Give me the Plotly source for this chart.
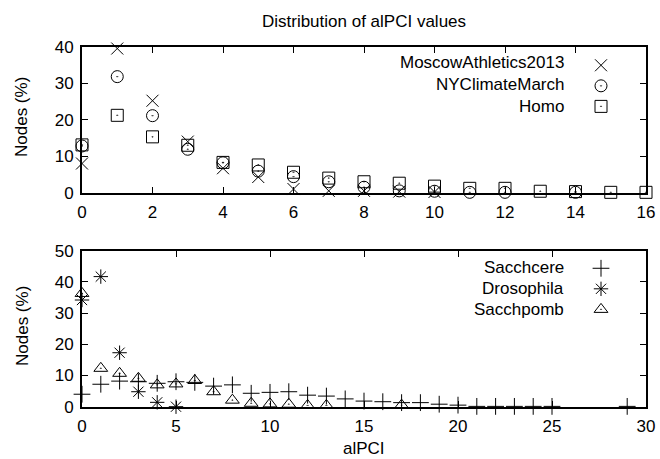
import plotly.graph_objects as go

# ---------------- data ----------------
top_title = "Distribution of alPCI values"
x_label = "alPCI"
y_label = "Nodes (%)"

moscow_x = [0, 1, 2, 3, 4, 5, 6, 7, 8, 9, 10]
moscow_y = [8.0, 39.5, 25.2, 14.0, 6.7, 4.3, 1.0, 0.5, 0.5, 0.3, 0.2]

ny_x = [0, 1, 2, 3, 4, 5, 6, 7, 8, 9, 10, 11, 12, 14]
ny_y = [12.8, 31.8, 21.1, 11.9, 8.2, 5.9, 4.4, 3.0, 1.5, 0.5, 0.4, 0.1, 0.1, 0.1]

homo_x = [0, 1, 2, 3, 4, 5, 6, 7, 8, 9, 10, 11, 12, 13, 14, 15, 16]
homo_y = [13.1, 21.2, 15.3, 13.0, 8.3, 7.6, 5.6, 4.0, 3.0, 2.6, 1.8, 1.2, 1.2, 0.4, 0.3, 0.1, 0.1]

cere_x = [0, 1, 2, 3, 4, 5, 6, 7, 8, 9, 10, 11, 12, 13, 14, 15, 16, 17, 18, 19, 20,
          21, 22, 23, 24, 25, 29]
cere_y = [4.0, 7.2, 8.2, 8.0, 7.5, 8.0, 7.8, 6.6, 7.0, 4.3, 4.6, 4.8, 3.7, 3.4, 2.5, 1.8,
          1.6, 1.3, 1.3, 0.8, 0.5, 0.1, 0.1, 0.1, 0.1, 0.1, 0.1]

dros_x = [0, 1, 2, 3, 4, 5]
dros_y = [34.2, 41.7, 17.3, 4.8, 1.4, 0.0]

pomb_x = [0, 1, 2, 3, 4, 5, 6, 7, 8, 9, 10, 11, 12, 13, 17]
pomb_y = [36.3, 12.3, 10.7, 9.1, 7.0, 7.3, 8.4, 4.8, 2.1, 1.1, 0.9, 0.8, 0.4, 0.4, 0.5]

top_names = ["MoscowAthletics2013", "NYClimateMarch", "Homo"]
bot_names = ["Sacchcere", "Drosophila", "Sacchpomb"]

top_xticks = [0, 2, 4, 6, 8, 10, 12, 14, 16]
top_yticks = [0, 10, 20, 30, 40]
bot_xticks = [0, 5, 10, 15, 20, 25, 30]
bot_yticks = [0, 10, 20, 30, 40, 50]

# ---------------- layout helpers ----------------
W, H = 660, 459
FONT = "Liberation Sans, Arial, sans-serif"
FS = 17


def px_x(p):
    return p / W


def px_y(p):
    return 1 - p / H


fig = go.Figure()

series_top = [
    (moscow_x, moscow_y, "x-thin-open", 12),
    (ny_x, ny_y, "circle-open-dot", 12),
    (homo_x, homo_y, "square-open-dot", 12),
]
series_bot = [
    (cere_x, cere_y, "cross-thin-open", 12),
    (dros_x, dros_y, "asterisk-open", 12),
    (pomb_x, pomb_y, "triangle-up-open-dot", 12),
]

# legend entries only show the key symbol; the label text is drawn gnuplot-style
# (to the left of the symbol) as annotations below.
for (xs, ys, sym, sz), name in zip(series_top, top_names):
    fig.add_trace(go.Scatter(
        x=xs, y=ys, mode="markers", name=" ", xaxis="x", yaxis="y",
        hovertemplate=name + ": (%{x}, %{y})<extra></extra>",
        marker=dict(symbol=sym, size=sz, color="black", line=dict(width=1, color="black")),
        cliponaxis=False, legend="legend", showlegend=True))

for (xs, ys, sym, sz), name in zip(series_bot, bot_names):
    fig.add_trace(go.Scatter(
        x=xs, y=ys, mode="markers", name=" ", xaxis="x2", yaxis="y2",
        hovertemplate=name + ": (%{x}, %{y})<extra></extra>",
        marker=dict(symbol=sym, size=sz, color="black", line=dict(width=1, color="black")),
        cliponaxis=False, legend="legend2", showlegend=True))

axis_common = dict(
    showline=True, linecolor="black", linewidth=2, mirror="ticks",
    ticks="inside", ticklen=6, tickwidth=1, tickcolor="black",
    showgrid=False, zeroline=False, automargin=False,
    tickfont=dict(family=FONT, size=FS, color="black"),
)

x_dom = [px_x(82), px_x(646)]
LEG_FS = 13.5

fig.update_layout(
    width=W, height=H,
    margin=dict(l=0, r=0, t=0, b=0, autoexpand=False),
    paper_bgcolor="white", plot_bgcolor="white",
    font=dict(family=FONT, size=FS, color="black"),
    title=dict(text=top_title, x=px_x(364), y=px_y(21), xanchor="center", yanchor="middle",
               xref="paper", yref="paper", font=dict(family=FONT, size=FS, color="black")),
    xaxis=dict(domain=x_dom, range=[0, 16], tickvals=top_xticks, anchor="y",
               ticklabelstandoff=3, **axis_common),
    yaxis=dict(domain=[px_y(192.7), px_y(46.7)], range=[0, 40], tickvals=top_yticks,
               anchor="x", ticklabelstandoff=3, **axis_common),
    xaxis2=dict(domain=x_dom, range=[0, 30], tickvals=bot_xticks, anchor="y2",
                ticklabelstandoff=3, **axis_common),
    yaxis2=dict(domain=[px_y(406.7), px_y(250.7)], range=[0, 50], tickvals=bot_yticks,
                anchor="x2", ticklabelstandoff=3, **axis_common),
    legend=dict(x=px_x(581), y=px_y(50), xanchor="left", yanchor="top",
                bgcolor="rgba(0,0,0,0)", font=dict(family=FONT, size=LEG_FS, color="black"),
                itemwidth=30, tracegroupgap=0),
    legend2=dict(x=px_x(581), y=px_y(253), xanchor="left", yanchor="top",
                 bgcolor="rgba(0,0,0,0)", font=dict(family=FONT, size=LEG_FS, color="black"),
                 itemwidth=30, tracegroupgap=0),
)

# legend labels (gnuplot style: text to the left of the key symbol)
annots = []
for i, name in enumerate(top_names):
    annots.append(dict(text=name, x=px_x(566), y=px_y(62.7 + 22 * i), xref="paper", yref="paper",
                       xanchor="right", yanchor="middle", showarrow=False,
                       font=dict(family=FONT, size=FS, color="black")))
for i, name in enumerate(bot_names):
    annots.append(dict(text=name, x=px_x(566), y=px_y(267.7 + 21 * i), xref="paper", yref="paper",
                       xanchor="right", yanchor="middle", showarrow=False,
                       font=dict(family=FONT, size=FS, color="black")))
# axis titles
annots.append(dict(text=y_label, x=px_x(22), y=px_y(117), xref="paper", yref="paper",
                   textangle=-90, xanchor="center", yanchor="middle", showarrow=False,
                   font=dict(family=FONT, size=FS, color="black")))
annots.append(dict(text=y_label, x=px_x(22), y=px_y(326), xref="paper", yref="paper",
                   textangle=-90, xanchor="center", yanchor="middle", showarrow=False,
                   font=dict(family=FONT, size=FS, color="black")))
annots.append(dict(text=x_label, x=px_x(364), y=px_y(448), xref="paper", yref="paper",
                   xanchor="center", yanchor="middle", showarrow=False,
                   font=dict(family=FONT, size=FS, color="black")))
fig.update_layout(annotations=annots)

fig.write_html("out.html", config={"displayModeBar": False},
               post_script="document.body.style.margin='0px';document.body.style.padding='0px';")
